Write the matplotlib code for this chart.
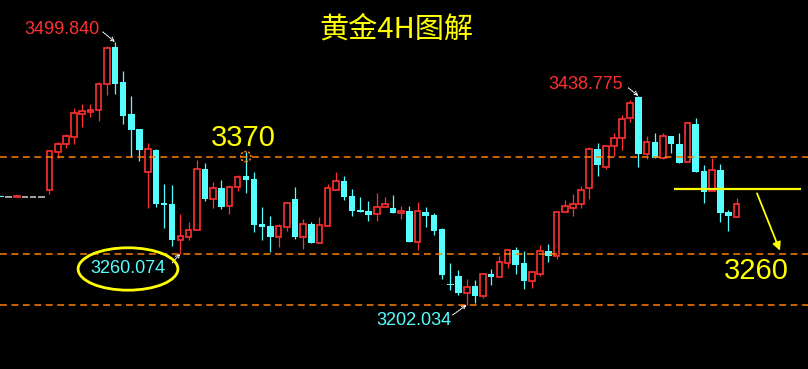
import numpy as np
import matplotlib.pyplot as plt
from matplotlib.patches import Ellipse

# gold 4H candles (price values)
opens = [3324.5, 3324.3, 3324.3, 3324.3, 3324.3, 3324.3,
         3332.2, 3375.3, 3384.3, 3392.3, 3418.3, 3420.6, 3422.8, 3452.3, 3494.2, 3454.5,
         3418.3, 3401.3, 3352.6, 3377.5, 3317.5, 3316.4, 3275.6, 3279.0, 3287.0, 3356.0,
         3322.0, 3334.5, 3314.1, 3335.6, 3348.1, 3344.7, 3293.8, 3291.5, 3279.0, 3290.3,
         3322.0, 3279.0, 3293.8, 3272.2, 3291.5, 3332.2, 3342.4, 3325.4, 3309.6, 3308.5,
         3305.1, 3313.0, 3311.9, 3306.2, 3308.5, 3273.4, 3307.3, 3303.9, 3288.1, 3225.8,
         3234.9, 3215.6, 3223.5, 3212.2, 3237.1, 3233.7, 3249.6, 3264.3, 3249.6, 3229.2,
         3237.1, 3263.2, 3257.5, 3307.3, 3311.9, 3316.4, 3334.5, 3378.7, 3358.3, 3382.1,
         3391.1, 3413.8, 3437.6, 3373.0, 3386.6, 3368.5, 3393.4, 3384.3, 3363.9, 3407.0,
         3353.8, 3331.1, 3354.9, 3307.3, 3301.7]
highs = [3324.5, 3324.3, 3324.5, 3324.3, 3324.3, 3324.3,
         3377.5, 3386.6, 3395.7, 3425.1, 3429.6, 3429.6, 3454.5, 3495.3, 3499.84, 3467.0,
         3438.7, 3401.3, 3385.5, 3378.7, 3339.0, 3337.9, 3305.1, 3296.0, 3366.2, 3362.8,
         3341.3, 3343.6, 3337.9, 3349.2, 3375.3, 3352.6, 3313.0, 3302.8, 3293.8, 3318.7,
         3335.6, 3299.4, 3296.0, 3301.7, 3339.0, 3352.6, 3348.1, 3333.4, 3324.3, 3319.8,
         3328.8, 3324.3, 3326.6, 3314.1, 3314.1, 3318.7, 3313.0, 3306.2, 3289.2, 3249.6,
         3241.7, 3231.5, 3230.3, 3238.3, 3242.8, 3257.5, 3265.4, 3267.7, 3263.2, 3240.5,
         3270.0, 3271.1, 3307.3, 3320.9, 3327.7, 3336.8, 3380.9, 3385.5, 3382.1, 3396.8,
         3417.2, 3434.2, 3438.775, 3393.4, 3396.8, 3396.8, 3393.4, 3396.8, 3409.2, 3413.8,
         3360.5, 3368.5, 3361.7, 3309.6, 3323.2]
lows = [3324.3, 3324.3, 3324.3, 3324.3, 3324.3, 3324.3,
        3327.7, 3368.5, 3379.8, 3384.3, 3403.6, 3414.9, 3410.4, 3439.8, 3440.9, 3407.0,
        3369.6, 3365.1, 3311.9, 3313.0, 3289.2, 3268.8, 3260.074, 3275.6, 3287.0, 3319.8,
        3311.9, 3310.7, 3305.1, 3331.1, 3328.8, 3284.7, 3275.6, 3262.0, 3267.7, 3285.8,
        3276.8, 3265.4, 3272.2, 3272.2, 3291.5, 3332.2, 3320.9, 3302.8, 3307.3, 3297.1,
        3297.1, 3313.0, 3306.2, 3299.4, 3273.4, 3264.3, 3290.3, 3281.3, 3231.5, 3219.0,
        3213.3, 3202.034, 3204.0, 3209.9, 3224.7, 3233.7, 3243.9, 3237.1, 3220.1, 3221.3,
        3234.9, 3250.7, 3254.1, 3307.3, 3302.8, 3311.9, 3322.0, 3348.1, 3356.0, 3370.7,
        3377.5, 3409.2, 3358.3, 3367.3, 3368.5, 3367.3, 3374.1, 3362.8, 3363.9, 3352.6,
        3317.5, 3331.1, 3296.0, 3285.8, 3301.7]
closes = [3324.3, 3324.3, 3324.5, 3324.3, 3324.3, 3324.3,
          3376.4, 3384.3, 3393.4, 3419.4, 3421.7, 3422.8, 3452.3, 3493.0, 3452.3, 3416.0,
          3400.3, 3377.5, 3378.7, 3316.4, 3315.3, 3275.6, 3280.2, 3287.0, 3356.0, 3322.0,
          3334.5, 3313.0, 3335.6, 3347.0, 3343.6, 3292.6, 3290.3, 3279.0, 3291.5, 3317.5,
          3279.0, 3293.8, 3272.2, 3292.6, 3334.5, 3342.4, 3324.3, 3308.5, 3307.3, 3303.9,
          3313.0, 3316.4, 3306.2, 3308.5, 3273.4, 3308.5, 3302.8, 3285.8, 3236.0, 3224.7,
          3215.6, 3222.4, 3212.2, 3237.1, 3233.7, 3250.7, 3264.3, 3247.3, 3229.2, 3239.4,
          3263.2, 3257.5, 3307.3, 3314.1, 3316.4, 3332.2, 3378.7, 3360.5, 3382.1, 3391.1,
          3412.6, 3430.8, 3373.0, 3386.6, 3368.5, 3393.4, 3384.3, 3362.8, 3408.1, 3352.6,
          3330.0, 3354.9, 3306.2, 3302.8, 3316.4]

levels = [3370, 3260.074, 3202.034]
resistance = 3333.4
target = 3260
title = '黄金4H图解'

RED = '#ff3030'
CYAN = '#55ffff'
YEL = '#ffff00'
ORANGE = '#ff7f00'

o = np.array(opens); h = np.array(highs); l = np.array(lows); c = np.array(closes)
idx = np.arange(len(o))
up = c > o
dn = c < o
fl = c == o

fig = plt.figure(figsize=(8.08, 3.69), dpi=100)
fig.patch.set_facecolor('black')
ax = fig.add_axes([0, 0, 1, 1])
ax.set_facecolor('black')
ax.set_xlim(-0.05, 98.73)
ax.set_ylim(3129.5, 3547.4)
ax.axis('off')

# wicks
ax.vlines(idx[dn], l[dn], h[dn], color=CYAN, lw=0.9, zorder=2)
ax.vlines(idx[up], c[up], h[up], color=RED, lw=0.9, zorder=2)
ax.vlines(idx[up], l[up], o[up], color=RED, lw=0.9, zorder=2)
# bodies
ax.bar(idx[dn], np.maximum(o[dn] - c[dn], 1.2), bottom=c[dn], width=0.8,
       color=CYAN, lw=0, zorder=3)
ax.bar(idx[up], np.maximum(c[up] - o[up], 1.2), bottom=o[up], width=0.7,
       facecolor='black', edgecolor=RED, lw=1.2, zorder=3)
ax.hlines(o[fl], idx[fl] - 0.4, idx[fl] + 0.4, color='#c0c0c0', lw=1.2, zorder=3)

# dashed levels
for lv in levels:
    ax.axhline(lv, color=ORANGE, lw=1.1, ls=(0, (4.5, 3)), zorder=4)

ax.text(0.49, 0.92, title, transform=ax.transAxes, ha='center', va='center',
        color=YEL, fontsize=21, family=['Noto Sans CJK SC', 'DejaVu Sans'])

arrow_w = dict(arrowstyle='->', color='white', lw=0.8, linestyle=(0, (1, 1)),
               shrinkA=0, shrinkB=0, mutation_scale=7)
num_font = dict(family='Liberation Sans', fontsize=13)

def mark(i, price, text, color, dx, dy, ax_dx, ax_dy, ha='right'):
    ax.annotate('', xy=(i, price), xytext=(ax_dx, ax_dy), textcoords='offset pixels',
                arrowprops=arrow_w, zorder=6)
    ax.annotate(text, xy=(i, price), xytext=(dx, dy), textcoords='offset pixels',
                ha=ha, va='center', color=color, **num_font)

i_hi = int(np.argmax(h))
mark(i_hi, h[i_hi], '%.3f' % h[i_hi], RED, -15, 12, -12, 10)
i_hi2 = 78
mark(i_hi2, h[i_hi2], '%.3f' % h[i_hi2], RED, -15, 11, -10, 8)
i_lo = int(np.argmin(l))
mark(i_lo, l[i_lo], '%.3f' % l[i_lo], CYAN, -15, -16, -14, -10)
i_lo2 = 22
mark(i_lo2, l[i_lo2], '%.3f' % l[i_lo2], CYAN, -52, -15, -8, -9, ha='center')

# yellow ellipse around 3260.074
ax.add_patch(Ellipse((i_lo2 - 6.4, l[i_lo2] - 17.3), 12.2, 48, fill=False,
                     ec=YEL, lw=2, zorder=6))

# 3370 label and little circle
i_c = 30
ax.add_patch(Ellipse((i_c, levels[0]), 1.25, 11.5, fill=False, ec=ORANGE, lw=1.1,
                     ls=(0, (1.5, 1)), zorder=6))
ax.annotate('3370', xy=(i_c, levels[0]), xytext=(-2, 19), textcoords='offset pixels',
            ha='center', va='center', color=YEL, family='Liberation Sans', fontsize=21)

# resistance line, arrow and target
last = idx[-1]
ax.hlines(resistance, last - 7.7, last + 7.9, color=YEL, lw=1.6, zorder=6)
ax.annotate('', xy=(last + 5.3, target + 3.5), xytext=(last + 2.5, resistance - 5),
            arrowprops=dict(arrowstyle='-|>', color=YEL, lw=1.3, mutation_scale=12,
                            shrinkA=0, shrinkB=0), zorder=6)
ax.annotate(str(target), xy=(last, target), xytext=(20, -17), textcoords='offset pixels',
            ha='center', va='center', color=YEL, family='Liberation Sans', fontsize=21)

plt.savefig('out.png', dpi=100, facecolor='black')
